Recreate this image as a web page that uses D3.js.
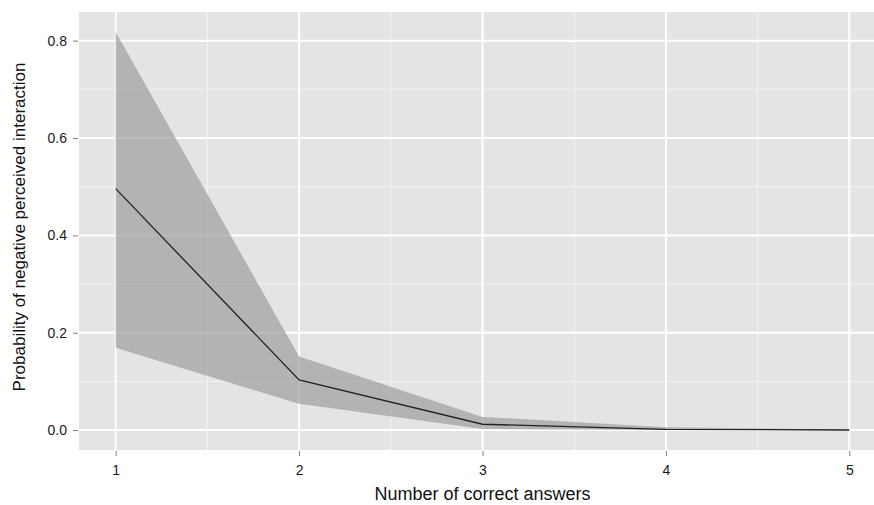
<html>
<head>
<script src="https://d3js.org/d3.v7.min.js"></script>
<style>
body { margin: 0; background: #fff; }
text { font-family: "Liberation Sans", Arial, sans-serif; }
</style>
</head>
<body>
<svg width="874" height="505"></svg>
<script>
// values
var answers = [1, 2, 3, 4, 5];
var prob    = [0.496, 0.103, 0.012, 0.0015, 0.0002];
var lower   = [0.169, 0.054, 0.002, 0.0, 0.0];
var upper   = [0.818, 0.151, 0.027, 0.006, 0.001];
var yTicks  = [0, 0.2, 0.4, 0.6, 0.8];
var yMinor  = [0.1, 0.3, 0.5, 0.7];
var xTicks  = [1, 2, 3, 4, 5];
var xMinor  = [1.5, 2.5, 3.5, 4.5];

var width = 874, height = 505;
var panel = {left: 79, top: 12, right: 886, bottom: 450};

var svg = d3.select("svg");

var x = d3.scaleLinear().domain([0.8, 5.2]).range([panel.left, panel.right]);
var y = d3.scaleLinear().domain([-0.0409, 0.8589]).range([panel.bottom, panel.top]);

var data = answers.map(function(a, i) {
	return {x: a, p: prob[i], lo: lower[i], hi: upper[i]};
});

// panel background
svg.append("rect")
	.attr("x", panel.left)
	.attr("y", panel.top)
	.attr("width", panel.right - panel.left)
	.attr("height", panel.bottom - panel.top)
	.attr("fill", "#e4e4e4");

// grid
var grid = svg.append("g");
grid.selectAll(".ymin").data(yMinor).enter().append("line")
	.attr("x1", panel.left).attr("x2", panel.right)
	.attr("y1", d => y(d)).attr("y2", d => y(d))
	.attr("stroke", "#f2f2f2").attr("stroke-width", 1);
grid.selectAll(".xmin").data(xMinor).enter().append("line")
	.attr("y1", panel.top).attr("y2", panel.bottom)
	.attr("x1", d => x(d)).attr("x2", d => x(d))
	.attr("stroke", "#f2f2f2").attr("stroke-width", 1);
grid.selectAll(".ymaj").data(yTicks).enter().append("line")
	.attr("x1", panel.left).attr("x2", panel.right)
	.attr("y1", d => y(d)).attr("y2", d => y(d))
	.attr("stroke", "#fff").attr("stroke-width", 2);
grid.selectAll(".xmaj").data(xTicks).enter().append("line")
	.attr("y1", panel.top).attr("y2", panel.bottom)
	.attr("x1", d => x(d)).attr("x2", d => x(d))
	.attr("stroke", "#fff").attr("stroke-width", 2);

// confidence band
var area = d3.area()
	.x(d => x(d.x))
	.y0(d => y(d.lo))
	.y1(d => y(d.hi));
svg.append("path")
	.datum(data)
	.attr("d", area)
	.attr("fill", "#9e9e9e")
	.attr("fill-opacity", 0.7);

// fitted line
var line = d3.line()
	.x(d => x(d.x))
	.y(d => y(d.p));
svg.append("path")
	.datum(data)
	.attr("d", line)
	.attr("fill", "none")
	.attr("stroke", "#222")
	.attr("stroke-width", 1.3);

// axes
var yAxis = svg.append("g")
	.attr("transform", "translate(" + (panel.left - 1) + ",0)")
	.call(d3.axisLeft(y).tickValues(yTicks).tickFormat(d3.format(".1f")).tickSize(5).tickPadding(6));
var xAxis = svg.append("g")
	.attr("transform", "translate(0," + (panel.bottom + 1) + ")")
	.call(d3.axisBottom(x).tickValues(xTicks).tickFormat(d3.format("d")).tickSize(5).tickPadding(9));
[yAxis, xAxis].forEach(function(g) {
	g.select(".domain").remove();
	g.selectAll(".tick line").attr("stroke", "#7f7f7f");
	g.selectAll(".tick text")
		.attr("fill", "#1a1a1a")
		.style("font-size", "14px")
		.style("font-family", "'Liberation Sans', Arial, sans-serif");
});

// axis titles
svg.append("text")
	.attr("x", (panel.left + panel.right) / 2)
	.attr("y", 500)
	.attr("text-anchor", "middle")
	.attr("fill", "#111")
	.style("font-size", "18px")
	.text("Number of correct answers");
svg.append("text")
	.attr("transform", "translate(25,227) rotate(-90)")
	.attr("text-anchor", "middle")
	.attr("fill", "#111")
	.style("font-size", "17px")
	.text("Probability of negative perceived interaction");
</script>
</body>
</html>
